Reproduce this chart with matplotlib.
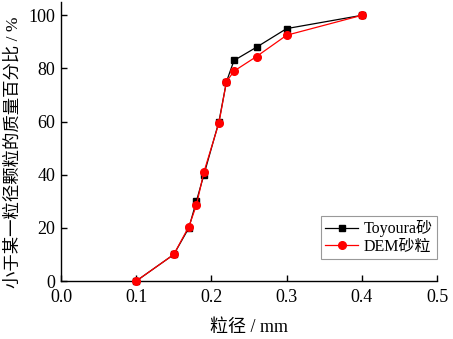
import matplotlib
matplotlib.use("Agg")
import matplotlib.pyplot as plt

plt.rcParams['font.family'] = ['Liberation Serif', 'Noto Sans CJK SC']

# particle size (mm) and cumulative passing (%)
size_mm = [0.10, 0.15, 0.17, 0.18, 0.19, 0.21, 0.22, 0.23, 0.26, 0.30, 0.40]
toyoura = [0, 10, 20, 30, 40, 60, 75, 83, 88, 95, 100]
dem = [0, 10, 20.5, 28.5, 41, 59.5, 75, 79, 84.5, 92.5, 100]

fig = plt.figure(figsize=(4.53, 3.39), dpi=100)
ax = fig.add_axes([0.1347, 0.171, 0.830, 0.823])

ax.plot(size_mm, toyoura, '-s', color='black', lw=0.9, ms=4.5,
        label='Toyoura砂', clip_on=False, zorder=3)
ax.plot(size_mm, dem, '-o', color='#ff0000', lw=0.9, ms=5.5,
        label='DEM砂粒', clip_on=False, zorder=4)

ax.set_xlim(0, 0.5)
ax.set_ylim(0, 105)
ax.set_xticks([0.0, 0.1, 0.2, 0.3, 0.4, 0.5])
ax.set_xticklabels(['0.0', '0.1', '0.2', '0.3', '0.4', '0.5'])
ax.set_yticks([0, 20, 40, 60, 80, 100])

for side in ['top', 'right']:
    ax.spines[side].set_visible(False)
for side in ['left', 'bottom']:
    ax.spines[side].set_linewidth(1.0)

ax.tick_params(direction='in', length=4, width=1.0, labelsize=13)
ax.tick_params(axis='x', pad=6)
ax.tick_params(axis='y', pad=4)

ax.set_xlabel('粒径 / mm', fontsize=13, labelpad=9)
ax.set_ylabel('小于某一粒径颗粒的质量百分比 / %', fontsize=12.5)
ax.yaxis.set_label_coords(-0.105, 0.462)

leg = ax.legend(loc='lower right', bbox_to_anchor=(1.0, 0.079),
                borderaxespad=0, fontsize=11.5, fancybox=False,
                edgecolor='#808080', handlelength=2.1, handletextpad=0.35,
                borderpad=0.25, labelspacing=0.1)
leg.get_frame().set_linewidth(0.8)

fig.savefig('out.png', dpi=100)
